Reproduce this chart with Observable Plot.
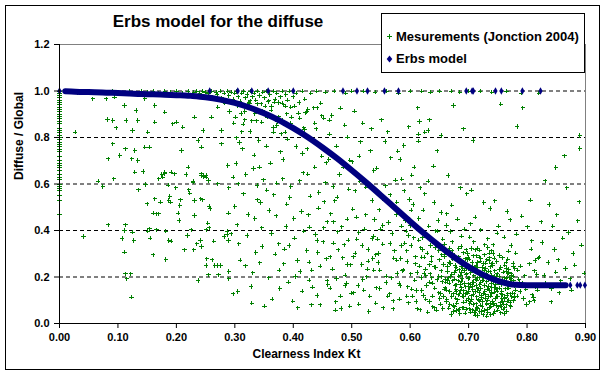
<!DOCTYPE html>
<html>
<head>
<meta charset="utf-8">
<script src="https://cdn.jsdelivr.net/npm/d3@7"></script>
<script src="https://cdn.jsdelivr.net/npm/@observablehq/plot@0.6"></script>
<style>
  html, body { margin: 0; padding: 0; background: #fff; }
  #wrap { position: relative; width: 604px; height: 376px; font-family: Arial, "Liberation Sans", sans-serif; }
  #wrap > svg { position: absolute; left: 0; top: 0; }
  #frame { position: absolute; left: 5px; top: 5px; width: 593px; height: 363px; border: 1px solid #000; pointer-events: none; }
  #title { position: absolute; left: 0; width: 436px; top: 12px; text-align: center; font-weight: bold; font-size: 17px; color: #000; }
  #legend { position: absolute; left: 381px; top: 13px; width: 202px; height: 58px; border: 1px solid #000; background: #fff; font-weight: bold; font-size: 13px; color: #000; }
  .lrow { position: absolute; left: 4px; height: 16px; line-height: 16px; white-space: nowrap; }
  .lrow svg { display: inline-block; vertical-align: middle; margin-right: 3px; position: relative; top: -1px; }
</style>
</head>
<body>
<div id="wrap">
  <div id="frame"></div>
  <div id="title">Erbs model for the diffuse</div>
  <div id="legend">
    <div class="lrow" style="top:15px"><svg width="7" height="7"><path d="M1,3.5H6M3.5,1V6" stroke="#008000" stroke-width="1"/></svg>Mesurements (Jonction 2004)</div>
    <div class="lrow" style="top:37px"><svg width="7" height="8"><path d="M3.5,0.5L6.3,4L3.5,7.5L0.7,4Z" fill="#000080"/></svg>Erbs model</div>
  </div>
</div>
<script>
// ---- axis ticks ----
const xTicks = [0, 0.1, 0.2, 0.3, 0.4, 0.5, 0.6, 0.7, 0.8, 0.9];
const yTicks = [0, 0.2, 0.4, 0.6, 0.8, 1.0, 1.2];

// ---- measurements (Jonction 2004): [Kt, Diffuse/Global] ----
const zeroKtRatios = [0.47,0.53,0.55,0.57,0.58,0.59,0.60,0.62,0.63,0.64,0.66,0.67,0.68,0.69,0.70,0.72,0.74,0.75,0.76,0.77,0.78,0.79,0.80,0.81,0.82,0.83,0.84,0.86,0.87,0.88,0.89,0.90,0.91,0.92,0.93,0.94,0.95,0.96,0.97,0.98,0.99,1.00];

const topBand = [[0.03,0.99],[0.05,1.0],[0.07,0.995],[0.09,1.0],[0.11,0.99],[0.12,1.0],[0.14,1.0],[0.15,0.995],[0.16,1.0],[0.17,0.99],[0.18,1.0],[0.19,0.995],[0.20,1.0],[0.21,0.99],[0.22,1.0],[0.23,0.995],[0.235,1.0],[0.24,0.99],[0.245,1.0],[0.25,0.995],
[0.255,0.99],[0.26,1.0],[0.262,0.975],[0.268,0.995],[0.27,0.985],[0.275,1.0],[0.278,0.97],[0.282,0.99],[0.285,0.96],[0.288,1.0],[0.29,0.98],[0.294,0.995],[0.297,0.965],[0.30,0.99],[0.303,1.0],[0.306,0.975],[0.309,0.955],[0.312,0.99],[0.315,1.0],[0.318,0.97],[0.321,0.985],[0.324,0.95],[0.327,1.0],[0.33,0.975],[0.333,0.99],[0.336,0.96],[0.339,1.0],[0.342,0.98],[0.345,0.945],[0.348,0.995],[0.351,0.97],[0.354,1.0],[0.357,0.955],[0.36,0.985],[0.363,0.935],[0.366,1.0],[0.369,0.965],[0.372,0.99],[0.375,0.95],[0.378,0.975],[0.381,1.0],[0.384,0.94],[0.387,0.985],[0.39,0.96],[0.393,1.0],[0.396,0.93],[0.40,0.975],[0.405,0.99],[0.41,0.95],[0.415,1.0],[0.42,0.965],[0.425,0.92],[0.43,0.99],
[0.44,1.0],[0.455,0.995],[0.47,1.0],[0.49,0.99],[0.50,1.0],[0.52,1.0],[0.54,0.995],[0.56,1.0],[0.58,0.99],[0.60,1.0],[0.62,1.0],[0.635,0.995],[0.65,1.0],[0.67,1.0],[0.685,0.995],[0.70,1.0],[0.72,1.0],[0.74,0.995],[0.765,1.0],[0.79,0.99],[0.82,0.99]];

const upperBand = [[0.291,0.912],[0.338,0.945],[0.317,0.876],[0.362,0.918],[0.305,0.938],[0.389,0.902],[0.346,0.866],[0.411,0.883],[0.326,0.958],[0.372,0.851],[0.298,0.861],[0.402,0.935],[0.353,0.897],[0.437,0.862],[0.381,0.947],[0.312,0.825],[0.423,0.911],[0.366,0.823],[0.449,0.893],[0.334,0.902],[0.395,0.862],[0.283,0.948],[0.418,0.842],[0.358,0.958],[0.462,0.875],[0.329,0.872],[0.386,0.823],[0.441,0.927],[0.301,0.887],[0.375,0.889]];

const leftCloud = [[0.027,0.823],[0.057,0.966],[0.080,0.966],[0.082,0.877],[0.091,0.873],[0.097,0.842],[0.094,0.973],[0.111,0.937],[0.114,0.873],[0.125,0.830],[0.131,0.916],[0.134,0.873],[0.091,0.773],[0.113,0.751],[0.083,0.708],[0.103,0.723],[0.124,0.708],[0.146,0.759],[0.154,0.759],[0.151,0.823],[0.163,0.866],[0.146,0.966],[0.134,0.701],[0.177,0.629],[0.180,0.644],[0.200,0.866],[0.194,0.859],[0.209,0.744],[0.231,0.887],[0.237,0.787],[0.246,0.830],[0.260,0.887],[0.271,0.930],[0.277,0.830],[0.288,0.680],[0.277,0.773],[0.243,0.759],[0.211,0.845],[0.220,0.673],[0.243,0.644],[0.251,0.629],[0.191,0.651],[0.163,0.937],[0.180,0.909],[0.129,0.744],
[0.066,0.612],[0.074,0.589],[0.093,0.622],[0.083,0.424],[0.041,0.374],[0.113,0.424],[0.111,0.400],[0.125,0.393],[0.107,0.366],[0.127,0.357],[0.111,0.307],[0.113,0.213],[0.122,0.213],[0.115,0.192],[0.123,0.113],[0.135,0.575],[0.129,0.651],[0.143,0.654],[0.147,0.598],[0.150,0.515],[0.163,0.536],[0.173,0.522],[0.161,0.474],[0.166,0.472],[0.170,0.472],[0.151,0.397],[0.154,0.407],[0.155,0.367],[0.160,0.295],[0.166,0.403],[0.182,0.397],[0.187,0.357],[0.191,0.354],[0.182,0.275],[0.170,0.622],[0.175,0.641],[0.180,0.651],[0.186,0.595],[0.187,0.529],[0.190,0.522],[0.189,0.546],[0.207,0.532],[0.206,0.508],[0.203,0.474],[0.205,0.443],[0.199,0.584],[0.197,0.644],[0.217,0.641],[0.221,0.575],[0.223,0.560],[0.229,0.608],[0.231,0.529],[0.231,0.465],[0.242,0.536],[0.245,0.532],[0.256,0.503],[0.258,0.493],[0.254,0.432],[0.256,0.412],[0.251,0.403],[0.225,0.403],[0.219,0.379],[0.235,0.343],[0.241,0.357],[0.243,0.331],[0.230,0.317],[0.214,0.317],[0.264,0.354],[0.282,0.374],[0.287,0.383],[0.289,0.357],[0.287,0.397],[0.294,0.386],[0.289,0.474],[0.290,0.584],[0.297,0.629],[0.271,0.601],[0.243,0.637],[0.247,0.632],[0.251,0.637],[0.255,0.615],[0.229,0.612],[0.252,0.278],[0.261,0.274],[0.251,0.249],[0.266,0.249],[0.271,0.249],[0.276,0.249],[0.255,0.209],[0.272,0.209],[0.290,0.224],[0.290,0.192],[0.237,0.185],[0.297,0.128]];

const midCloud = [
[0.317,0.912],[0.302,0.688],[0.334,0.451],[0.309,0.273],[0.326,0.826],[0.338,0.594],[0.305,0.137],[0.321,0.379],[0.313,0.752],[0.331,0.218],[0.300,0.503],[0.337,0.871],[0.319,0.641],[0.307,0.342],[0.329,0.087],[0.315,0.557],[0.303,0.798],[0.336,0.306],[0.323,0.469],[0.311,0.903],[0.333,0.724],[0.306,0.601],[0.328,0.159],[0.318,0.248],[0.339,0.532],[0.304,0.425],[0.325,0.947],[0.314,0.858],[0.332,0.667],[0.308,0.779],
[0.356,0.887],[0.371,0.463],[0.343,0.261],[0.378,0.739],[0.349,0.618],[0.364,0.104],[0.352,0.935],[0.375,0.342],[0.341,0.787],[0.367,0.553],[0.358,0.196],[0.346,0.412],[0.373,0.868],[0.361,0.689],[0.344,0.521],[0.369,0.298],[0.354,0.763],[0.377,0.151],[0.348,0.915],[0.363,0.387],[0.372,0.604],[0.351,0.075],[0.366,0.843],[0.342,0.672],[0.359,0.486],[0.376,0.229],[0.347,0.331],[0.368,0.952],[0.355,0.574],[0.379,0.816],
[0.394,0.542],[0.381,0.873],[0.412,0.223],[0.388,0.417],[0.405,0.761],[0.399,0.096],[0.417,0.648],[0.385,0.319],[0.409,0.905],[0.392,0.178],[0.414,0.482],[0.383,0.706],[0.402,0.367],[0.419,0.834],[0.396,0.589],[0.387,0.935],[0.407,0.271],[0.415,0.139],[0.390,0.793],[0.401,0.452],[0.418,0.397],[0.384,0.256],[0.411,0.614],[0.397,0.887],[0.389,0.513],[0.404,0.202],[0.416,0.731],[0.393,0.335],[0.408,0.068],[0.382,0.622],
[0.437,0.672],[0.423,0.314],[0.452,0.883],[0.441,0.121],[0.429,0.548],[0.458,0.437],[0.433,0.792],[0.446,0.246],[0.421,0.906],[0.455,0.605],[0.438,0.383],[0.427,0.187],[0.449,0.719],[0.443,0.496],[0.431,0.081],[0.457,0.278],[0.425,0.643],[0.451,0.352],[0.435,0.927],[0.444,0.563],[0.428,0.415],[0.459,0.167],[0.439,0.837],[0.424,0.752],[0.453,0.523],[0.432,0.229],[0.447,0.948],[0.456,0.691],[0.426,0.468],[0.442,0.305],
[0.476,0.394],[0.462,0.815],[0.491,0.172],[0.468,0.589],[0.485,0.283],[0.497,0.702],[0.473,0.093],[0.481,0.926],[0.464,0.471],[0.494,0.358],[0.479,0.641],[0.467,0.234],[0.488,0.853],[0.471,0.527],[0.499,0.131],[0.483,0.416],[0.461,0.705],[0.495,0.578],[0.477,0.317],[0.466,0.894],[0.489,0.208],[0.474,0.762],[0.492,0.448],[0.463,0.152],[0.486,0.673],[0.469,0.346],[0.498,0.252],[0.482,0.064],[0.475,0.544],[0.493,0.801],
[0.514,0.612],[0.503,0.287],[0.532,0.743],[0.521,0.144],[0.508,0.458],[0.537,0.376],[0.519,0.862],[0.526,0.201],[0.501,0.695],[0.535,0.529],[0.512,0.083],[0.528,0.318],[0.505,0.913],[0.539,0.447],[0.517,0.254],[0.524,0.586],[0.509,0.362],[0.531,0.117],[0.515,0.781],[0.538,0.658],[0.502,0.492],[0.527,0.233],[0.511,0.163],[0.534,0.837],[0.522,0.405],[0.506,0.571],[0.529,0.052],[0.518,0.336],[0.536,0.279],[0.513,0.719],
[0.553,0.341],[0.567,0.712],[0.542,0.154],[0.576,0.468],[0.558,0.592],[0.545,0.263],[0.571,0.097],[0.562,0.824],[0.549,0.405],[0.578,0.215],[0.556,0.531],[0.543,0.668],[0.573,0.312],[0.565,0.128],[0.551,0.876],[0.569,0.387],[0.547,0.489],[0.575,0.617],[0.559,0.176],[0.541,0.296],[0.566,0.553],[0.554,0.067],[0.579,0.741],[0.548,0.229],[0.563,0.434],[0.572,0.281],[0.557,0.783],[0.544,0.362],[0.568,0.196],[0.577,0.522]];

const midLower = [[0.463,0.287],[0.548,0.151],[0.512,0.392],[0.587,0.226],[0.433,0.156],[0.621,0.318],[0.497,0.074],[0.566,0.344],[0.452,0.412],[0.603,0.147],[0.528,0.268],[0.641,0.244],[0.474,0.193],[0.585,0.419],[0.541,0.087],[0.609,0.287],[0.487,0.338],[0.559,0.204],[0.427,0.264],[0.633,0.178],[0.503,0.132],[0.577,0.272],[0.446,0.081],[0.615,0.452],[0.535,0.366],[0.594,0.118],[0.469,0.437],[0.649,0.202],[0.519,0.189],[0.571,0.063],[0.441,0.357],[0.627,0.104],[0.493,0.254],[0.553,0.421],[0.602,0.336],[0.481,0.117],[0.538,0.229],[0.617,0.059],[0.458,0.183],[0.583,0.163],[0.524,0.468],[0.644,0.398],[0.506,0.303],[0.562,0.118],[0.472,0.058],[0.597,0.379],[0.546,0.301],[0.637,0.287],[0.489,0.163],[0.612,0.219]];

const rightCloud = [
[0.594,0.312],[0.583,0.706],[0.611,0.142],[0.602,0.487],[0.588,0.231],[0.617,0.583],[0.597,0.089],[0.606,0.368],[0.581,0.174],[0.614,0.814],[0.592,0.443],[0.609,0.257],[0.586,0.621],[0.619,0.198],[0.599,0.534],[0.604,0.117],[0.591,0.346],[0.613,0.412],[0.584,0.279],[0.607,0.672],[0.596,0.158],[0.618,0.326],[0.589,0.765],[0.601,0.213],[0.612,0.063],[0.593,0.397],[0.605,0.512],[0.582,0.104],[0.616,0.247],[0.598,0.846],[0.608,0.186],[0.587,0.468],[0.615,0.359],[0.595,0.267],[0.603,0.638],[0.585,0.335],[0.61,0.095],[0.6,0.421],[0.59,0.571],[0.62,0.286],
[0.634,0.214],[0.622,0.487],[0.651,0.108],[0.643,0.326],[0.628,0.163],[0.657,0.254],[0.639,0.071],[0.647,0.397],[0.624,0.285],[0.655,0.179],[0.631,0.612],[0.649,0.132],[0.626,0.234],[0.659,0.341],[0.637,0.196],[0.645,0.057],[0.621,0.368],[0.653,0.226],[0.633,0.094],[0.641,0.521],[0.629,0.302],[0.658,0.147],[0.636,0.268],[0.648,0.443],[0.623,0.121],[0.654,0.295],[0.638,0.173],[0.646,0.742],[0.627,0.207],[0.652,0.083],[0.632,0.419],[0.644,0.241],[0.656,0.363],[0.625,0.558],[0.642,0.152],[0.63,0.049],[0.65,0.274],[0.635,0.336],[0.66,0.191],[0.64,0.677],[0.62,0.142],[0.657,0.116],[0.633,0.253],[0.646,0.188],[0.628,0.381],[0.653,0.478],[0.638,0.118],[0.624,0.216],[0.649,0.313],[0.642,0.068],
[0.673,0.184],[0.662,0.421],[0.691,0.092],[0.684,0.267],[0.668,0.137],[0.697,0.213],[0.679,0.056],[0.687,0.331],[0.664,0.245],[0.695,0.158],[0.671,0.509],[0.689,0.117],[0.666,0.196],[0.699,0.284],[0.677,0.163],[0.685,0.043],[0.661,0.302],[0.693,0.226],[0.674,0.078],[0.681,0.448],[0.669,0.258],[0.698,0.131],[0.676,0.219],[0.688,0.375],[0.663,0.104],[0.694,0.247],[0.678,0.146],[0.686,0.583],[0.667,0.174],[0.692,0.067],[0.672,0.352],[0.683,0.203],[0.696,0.317],[0.665,0.636],[0.682,0.124],[0.67,0.039],[0.69,0.236],[0.675,0.293],[0.7,0.171],[0.68,0.087],[0.66,0.154],[0.697,0.097],[0.673,0.276],[0.686,0.141],[0.668,0.323],[0.693,0.405],[0.678,0.109],[0.664,0.185],[0.689,0.262],[0.682,0.058],[0.671,0.212],[0.699,0.193],[0.676,0.071],[0.687,0.182],[0.662,0.094],[0.694,0.128],[0.669,0.396],[0.684,0.231],[0.697,0.557],[0.674,0.127],[0.663,0.471],[0.691,0.304],[0.679,0.242],[0.666,0.066],[0.688,0.153],
[0.713,0.164],[0.702,0.372],[0.731,0.083],[0.724,0.241],[0.708,0.125],[0.737,0.196],[0.719,0.051],[0.727,0.296],[0.704,0.218],[0.735,0.142],[0.711,0.457],[0.729,0.106],[0.706,0.178],[0.739,0.257],[0.717,0.149],[0.725,0.038],[0.701,0.276],[0.733,0.207],[0.714,0.068],[0.721,0.403],[0.709,0.232],[0.738,0.118],[0.716,0.197],[0.728,0.338],[0.703,0.093],[0.734,0.225],[0.718,0.133],[0.726,0.521],[0.707,0.157],[0.732,0.061],[0.712,0.317],[0.723,0.186],[0.736,0.283],[0.705,0.573],[0.722,0.112],[0.71,0.046],[0.73,0.214],[0.715,0.262],[0.74,0.155],[0.72,0.079],[0.7,0.139],[0.737,0.088],[0.713,0.251],[0.726,0.128],[0.708,0.291],[0.733,0.364],[0.718,0.098],[0.704,0.167],[0.729,0.236],[0.722,0.052],[0.711,0.191],[0.739,0.173],[0.716,0.064],[0.727,0.163],[0.702,0.085],[0.734,0.116],[0.709,0.352],[0.724,0.208],[0.737,0.494],[0.714,0.114],[0.703,0.428],[0.731,0.274],[0.719,0.219],[0.706,0.059],[0.728,0.138],[0.735,0.303],[0.712,0.226],[0.721,0.151],[0.738,0.072],[0.707,0.247],[0.725,0.186],[0.716,0.322],[0.731,0.179],[0.705,0.119],[0.72,0.268],
[0.753,0.152],[0.742,0.338],[0.771,0.091],[0.764,0.224],[0.748,0.117],[0.777,0.183],[0.759,0.062],[0.767,0.276],[0.744,0.203],[0.775,0.131],[0.751,0.418],[0.769,0.101],[0.746,0.166],[0.779,0.236],[0.757,0.139],[0.765,0.052],[0.741,0.258],[0.773,0.194],[0.754,0.076],[0.761,0.372],[0.749,0.214],[0.778,0.112],[0.756,0.183],[0.768,0.311],[0.743,0.087],[0.774,0.208],[0.758,0.124],[0.766,0.482],[0.747,0.146],[0.772,0.071],[0.752,0.293],[0.763,0.172],[0.776,0.259],[0.745,0.527],[0.762,0.106],[0.75,0.057],[0.77,0.198],[0.755,0.241],[0.78,0.144],[0.76,0.083],[0.74,0.128],[0.777,0.097],[0.753,0.232],[0.766,0.119],[0.748,0.268],[0.773,0.336],[0.758,0.094],[0.744,0.155],[0.769,0.219],[0.762,0.068],[0.751,0.176],[0.779,0.161],[0.756,0.073],[0.767,0.152],[0.742,0.082],[0.774,0.114],[0.749,0.389],[0.764,0.193],[0.771,0.446],[0.746,0.108],
[0.793,0.173],[0.782,0.384],[0.811,0.112],[0.804,0.257],[0.788,0.138],[0.817,0.211],[0.799,0.082],[0.807,0.319],[0.784,0.229],[0.815,0.156],[0.791,0.462],[0.809,0.124],[0.786,0.191],[0.819,0.281],[0.797,0.161],[0.805,0.093],[0.781,0.302],[0.813,0.226],[0.794,0.107],[0.801,0.416],[0.789,0.247],[0.818,0.143],[0.796,0.205],[0.808,0.355],[0.783,0.118],[0.814,0.271],[0.798,0.148],[0.806,0.531],[0.787,0.178],[0.812,0.098],
[0.836,0.262],[0.824,0.437],[0.858,0.183],[0.847,0.318],[0.829,0.207],[0.871,0.392],[0.842,0.151],[0.853,0.274],[0.826,0.349],[0.866,0.236],[0.838,0.512],[0.879,0.301],[0.832,0.173],[0.887,0.442],[0.849,0.221],[0.861,0.367],[0.821,0.286],[0.874,0.192],[0.844,0.418],[0.893,0.337],[0.855,0.132],[0.868,0.583],[0.831,0.613],[0.882,0.251],[0.851,0.468],[0.898,0.216],[0.864,0.721],[0.889,0.523],[0.841,0.093],[0.876,0.143],
[0.89,0.809],[0.89,0.753],[0.849,0.671],[0.783,0.847],[0.793,0.927],[0.755,0.944],[0.674,0.937],[0.613,0.927],[0.616,0.869],[0.633,0.876],[0.625,0.823],[0.631,0.83],[0.691,0.837],[0.653,0.809],[0.708,0.787],[0.614,0.784]];

const denseCluster = [[0.702,0.153],[0.745,0.227],[0.668,0.082],[0.721,0.279],[0.757,0.108],[0.689,0.194],[0.733,0.047],[0.774,0.166],[0.711,0.238],[0.652,0.129],[0.739,0.312],[0.696,0.061],[0.762,0.251],[0.717,0.102],[0.683,0.287],[0.749,0.139],[0.726,0.198],[0.664,0.223],[0.771,0.078],[0.705,0.322],[0.741,0.094],[0.692,0.141],[0.758,0.187],[0.715,0.034],[0.677,0.251],[0.734,0.159],[0.767,0.213],[0.699,0.107],[0.753,0.294],[0.723,0.073],[0.686,0.168],[0.745,0.052],[0.709,0.205],[0.778,0.127],[0.661,0.178],[0.737,0.244],[0.694,0.278],[0.763,0.149],[0.719,0.168],[0.681,0.102],[0.751,0.071],[0.729,0.259],[0.672,0.313],[0.768,0.233],[0.703,0.048],[0.743,0.182],[0.688,0.219],[0.756,0.127],[0.714,0.291],[0.733,0.101],[0.679,0.137],[0.761,0.042],[0.697,0.237],[0.739,0.208],[0.722,0.121],[0.684,0.062],[0.771,0.181],[0.707,0.146],[0.748,0.266],[0.667,0.263],[0.731,0.032],[0.693,0.172],[0.759,0.221],[0.713,0.084],[0.676,0.191],[0.744,0.135],[0.727,0.229],[0.698,0.301],[0.766,0.096],[0.718,0.198],[0.654,0.201],[0.736,0.069],[0.691,0.116],[0.753,0.176],[0.706,0.264],[0.742,0.301],[0.682,0.183],[0.776,0.203],[0.724,0.094],[0.701,0.197],[0.747,0.078],[0.671,0.116],[0.735,0.271],[0.712,0.137],[0.764,0.264],[0.687,0.244],[0.755,0.046],[0.719,0.315],[0.694,0.045],[0.732,0.147],[0.659,0.288],[0.772,0.127],[0.708,0.082],[0.741,0.249],[0.678,0.228],[0.727,0.056],[0.764,0.081],[0.699,0.158],[0.752,0.204],[0.716,0.243],[0.685,0.129],[0.738,0.039],[0.703,0.226],[0.769,0.152],[0.721,0.178],[0.663,0.143],[0.746,0.156],[0.696,0.211],[0.758,0.283],[0.711,0.058],[0.734,0.192],[0.674,0.052],[0.777,0.244],[0.718,0.286],[0.689,0.067],[0.75,0.116],[0.729,0.124],[0.705,0.104],[0.761,0.197],[0.683,0.322],[0.743,0.043],[0.714,0.187],[0.697,0.133],[0.767,0.128],[0.725,0.258],[0.656,0.064],[0.737,0.222],[0.692,0.253],[0.754,0.089],[0.709,0.177],[0.744,0.281],[0.669,0.201],[0.731,0.087],[0.773,0.213],[0.701,0.063],[0.757,0.166],[0.716,0.149],[0.686,0.208],[0.739,0.134],[0.722,0.207],[0.765,0.237],[0.698,0.274],[0.748,0.202],[0.712,0.036],[0.679,0.166],[0.733,0.327],[0.762,0.113]];

// ---- Erbs model ----
const modelKt    = [0.01,0.02,0.04,0.06,0.08,0.10,0.12,0.14,0.16,0.18,0.20,0.22,0.225,0.25,0.275,0.30,0.325,0.35,0.375,0.40,0.425,0.45,0.475,0.50,0.525,0.55,0.575,0.60,0.625,0.65,0.675,0.70,0.725,0.75,0.775,0.80,0.83,0.866];
const modelRatio = [0.999,0.998,0.996,0.995,0.993,0.991,0.989,0.987,0.986,0.984,0.982,0.980,0.979,0.973,0.963,0.949,0.929,0.904,0.875,0.840,0.801,0.757,0.710,0.659,0.606,0.551,0.495,0.439,0.385,0.334,0.286,0.244,0.209,0.183,0.168,0.165,0.165,0.165];
const modelDotKt    = [0, 0.257, 0.305, 0.329, 0.357, 0.400, 0.485, 0.509, 0.527, 0.556, 0.580, 0.696, 0.706, 0.708, 0.746, 0.756, 0.792, 0.823, 0.874, 0.886, 0.891, 0.899];
const modelDotRatio = [1.0, 1.0, 1.0, 1.0, 1.0, 1.0, 1.0, 1.0, 1.0, 1.0, 1.0, 1.0, 1.0, 1.0, 1.0, 1.0, 1.0, 1.0, 0.165, 0.165, 0.165, 0.165];

// ---- build tables ----
const meas = [
  ...zeroKtRatios.map(r => ({kt: 0, r})),
  ...[...topBand, ...upperBand, ...leftCloud, ...midCloud, ...midLower, ...rightCloud, ...denseCluster].map(([kt, r]) => ({kt, r}))
];
const model = modelKt.map((kt, i) => ({kt, r: modelRatio[i]}));
const modelDots = modelDotKt.map((kt, i) => ({kt, r: modelDotRatio[i]}));

const GREEN = "#008000", NAVY = "#000080";
const txt = {fontFamily: "Arial, 'Liberation Sans', sans-serif", fontWeight: "bold", fill: "#000"};

const chart = Plot.plot({
  width: 604, height: 376,
  marginLeft: 59, marginRight: 19, marginTop: 44, marginBottom: 53,
  style: {fontFamily: "Arial, 'Liberation Sans', sans-serif", fontSize: "11px", fontWeight: "bold", color: "#000", background: "transparent", overflow: "visible"},
  x: {domain: [0, 0.9]},
  y: {domain: [0, 1.2]},
  marks: [
    Plot.gridY(yTicks.filter(v => v > 0 && v < 1.2), {stroke: "#000", strokeOpacity: 1, strokeDasharray: "4,3"}),
    Plot.ruleY([1.2], {stroke: "#808080"}),
    Plot.ruleX([0.9], {stroke: "#808080"}),
    Plot.dot(meas, {x: "kt", y: "r", symbol: "plus", r: 1.5, stroke: GREEN, strokeWidth: 1, shapeRendering: "crispEdges"}),
    Plot.line(model, {x: "kt", y: "r", stroke: NAVY, strokeWidth: 6, curve: "monotone-x"}),
    Plot.dot(modelDots, {x: "kt", y: "r", symbol: "diamond", r: 2.2, fill: NAVY, stroke: "none"}),
    Plot.axisX({ticks: xTicks, tickFormat: d => d.toFixed(2), tickSize: 5, tickPadding: 5, label: null}),
    Plot.axisY({ticks: yTicks, tickFormat: d => d.toFixed(1), tickSize: 5, tickPadding: 5, label: null}),
    Plot.ruleX([0], {stroke: "#000"}),
    Plot.ruleY([0], {stroke: "#000"}),
    Plot.text(["Clearness Index Kt"], {text: d => d, frameAnchor: "bottom", dx: -16, dy: 34, fontSize: 12, ...txt}),
    Plot.text(["Diffuse / Global"], {text: d => d, frameAnchor: "left", dx: -40, dy: -4, rotate: -90, fontSize: 12, ...txt})
  ]
});
document.getElementById("wrap").insertBefore(chart, document.getElementById("frame"));
</script>
</body>
</html>
